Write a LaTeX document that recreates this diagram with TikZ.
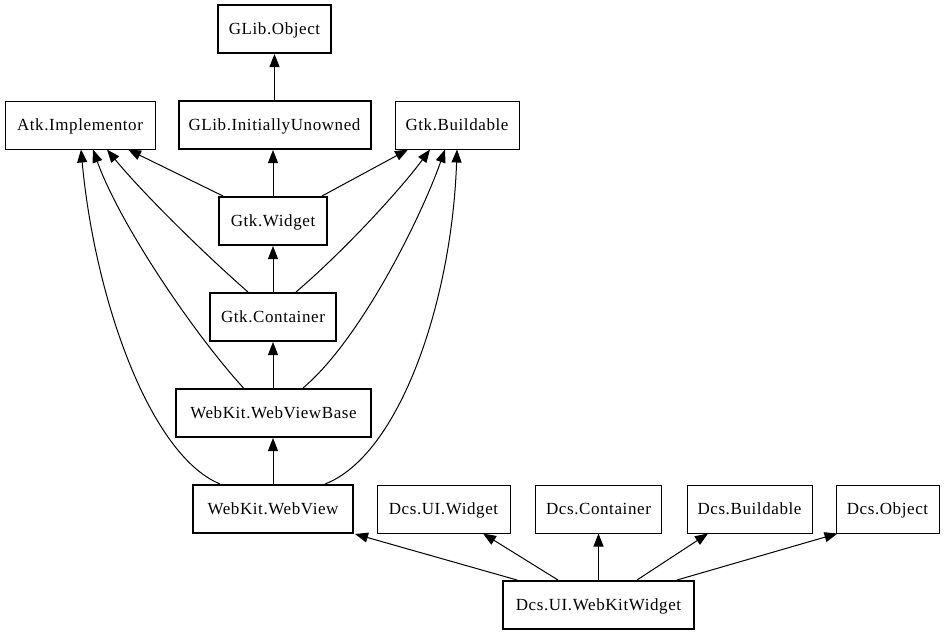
\documentclass[tikz,border=0pt]{standalone}
\usepackage{fontspec}
\setmainfont[LetterSpace=3.5]{Liberation Serif}
\usetikzlibrary{arrows.meta}
\tikzset{
  cls/.style={draw, line width=1pt, inner sep=0pt, minimum height=48pt,
    text height=11pt, text depth=0pt, font=\fontsize{17}{19}\selectfont},
  clsb/.style={cls, line width=2pt},
  arr/.style={line width=1pt, -{Triangle[length=13pt,width=10pt]}}
}
\begin{document}
\begin{tikzpicture}[x=1pt,y=-1pt]
\useasboundingbox (0,0) rectangle (945,635);
% nodes
\node[clsb, minimum width=113pt] (gobj) at (274.5,29) {GLib.Object};
\node[cls,  minimum width=150pt] (atk)  at (80,125) {Atk.Implementor};
\node[clsb, minimum width=192pt] (giu)  at (274.5,125) {GLib.InitiallyUnowned};
\node[cls,  minimum width=124pt] (gbld) at (457,125) {Gtk.Buildable};
\node[clsb, minimum width=108pt] (gwid) at (273,221) {Gtk.Widget};
\node[clsb, minimum width=126pt] (gcon) at (273,317) {Gtk.Container};
\node[clsb, minimum width=195pt] (wvb)  at (273.5,413) {WebKit.WebViewBase};
\node[clsb, minimum width=160pt] (wv)   at (273,509) {WebKit.WebView};
\node[cls,  minimum width=133pt] (duw)  at (443.5,509) {Dcs.UI.Widget};
\node[cls,  minimum width=126pt] (dcon) at (598.5,509) {Dcs.Container};
\node[cls,  minimum width=125pt] (dbld) at (749.5,509) {Dcs.Buildable};
\node[cls,  minimum width=103pt] (dobj) at (887.5,509) {Dcs.Object};
\node[clsb, minimum width=191pt] (wkw)  at (598.5,605) {Dcs.UI.WebKitWidget};
% vertical chain
\draw[arr] (giu.north) -- (gobj.south);
\draw[arr] (gwid.north) -- (giu.south -| gwid.north);
\draw[arr] (gcon.north) -- (gwid.south);
\draw[arr] (wvb.north -| gcon.south) -- (gcon.south);
\draw[arr] (wv.north) -- (wvb.south -| wv.north);
% to Atk.Implementor
\draw[arr] ([xshift=-50pt]gwid.north) -- ([xshift=48pt]atk.south);
\draw[arr] ([xshift=-25pt]gcon.north) .. controls (200,250) and (140,190) .. ([xshift=27pt]atk.south);
\draw[arr] ([xshift=-30pt]wvb.north) .. controls (195,335) and (120,225) .. ([xshift=13pt]atk.south);
\draw[arr] ([xshift=-53pt]wv.north) .. controls (150,455) and (95,300) .. ([xshift=1pt]atk.south);
% to Gtk.Buildable
\draw[arr] ([xshift=49pt]gwid.north) -- ([xshift=-49pt]gbld.south);
\draw[arr] ([xshift=23pt]gcon.north) .. controls (345,250) and (400,190) .. ([xshift=-27pt]gbld.south);
\draw[arr] ([xshift=29.5pt]wvb.north) .. controls (360,340) and (420,220) .. ([xshift=-12pt]gbld.south);
\draw[arr] ([xshift=52pt]wv.north) .. controls (400,455) and (452,300) .. (gbld.south);
% from Dcs.UI.WebKitWidget
\draw[arr] ([xshift=-81.5pt]wkw.north) -- ([xshift=82pt]wv.south);
\draw[arr] ([xshift=-40.5pt]wkw.north) -- ([xshift=39.5pt]duw.south);
\draw[arr] (wkw.north) -- (dcon.south);
\draw[arr] ([xshift=38.5pt]wkw.north) -- ([xshift=-41.5pt]dbld.south);
\draw[arr] ([xshift=78.5pt]wkw.north) -- ([xshift=-50pt]dobj.south);
\end{tikzpicture}
\end{document}
